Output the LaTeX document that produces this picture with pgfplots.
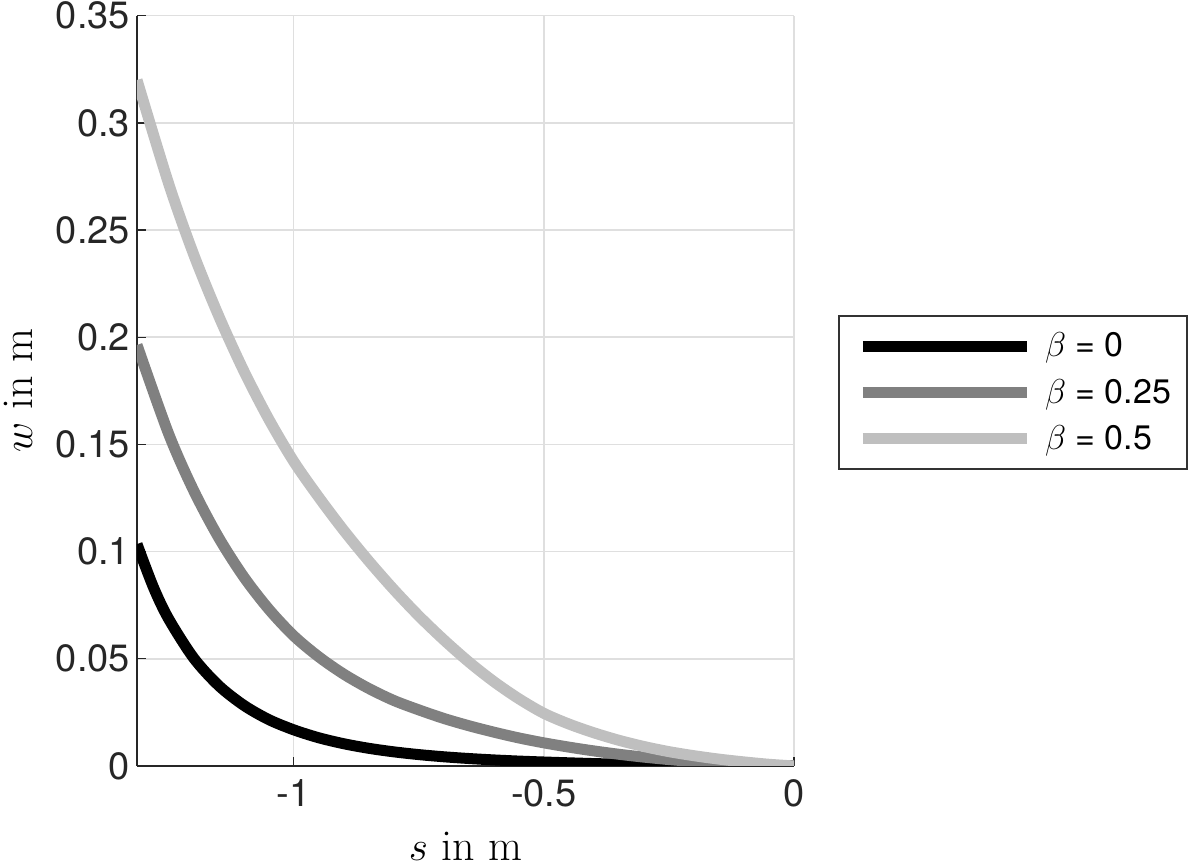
\documentclass[border=0pt]{standalone}
\usepackage{fontspec}
\setsansfont{TeX Gyre Heros}
\usepackage{pgfplots}
\pgfplotsset{compat=1.18}
\definecolor{lgray}{gray}{0.75}
\definecolor{mgray}{gray}{0.5}
\definecolor{gridc}{gray}{0.875}
\definecolor{axc}{gray}{0.15}
\begin{document}
\begin{tikzpicture}
\begin{axis}[
  scale only axis,
  width=328.5pt, height=375.15pt,
  xmin=-1.3128, xmax=0, ymin=0, ymax=0.35,
  xtick={-1,-0.5,0},
  ytick={0,0.05,0.1,0.15,0.2,0.25,0.3,0.35},
  axis lines=left,
  axis line style={-, draw=axc, line width=0.65pt},
  tick align=inside,
  major tick length=4.5pt,
  tick style={draw=axc, line width=0.65pt},
  grid=major,
  major grid style={draw=gridc, line width=0.75pt},
  /pgf/number format/fixed,
  /pgf/number format/precision=2,
  /pgf/number format/assume math mode=true,
  ticklabel style={font=\sffamily\fontsize{19}{22}\selectfont, text=axc},
  xticklabel style={yshift=-3.2pt},
  xlabel={$s$ in m},
  ylabel={$w$ in m},
  label style={font=\fontsize{22}{26}\selectfont, inner sep=0pt},
  xlabel style={at={(axis description cs:0.5,-0.126)}, anchor=base},
  ylabel style={at={(axis description cs:-0.1598,0.5)}, anchor=base},
  legend cell align=left,
  legend style={at={(axis description cs:1.067,0.6010)}, anchor=north west,
    draw=black!80, line width=0.8pt, fill=white,
    font=\sffamily\fontsize{17}{20}\selectfont,
    inner xsep=6pt, inner ysep=6.5pt,
    row sep=5.5pt,
    nodes={inner sep=2pt},
    /tikz/every odd column/.append style={column sep=4.3pt}},
  legend image code/.code={\path (0pt,0pt); \draw[#1] (3.3pt,0pt) -- (85.3pt,0pt);},
  every axis plot/.append style={line width=5.5pt, line cap=butt, line join=round},
]
\addplot[black, smooth, tension=0.5] coordinates {
(-1.3128,0.1035) (-1.28,0.0834) (-1.25,0.0688) (-1.2,0.0505) (-1.15,0.0376)
(-1.1,0.0284) (-1.05,0.0217) (-1.0,0.0169) (-0.95,0.01319) (-0.9,0.01040)
(-0.85,0.00826) (-0.8,0.00661) (-0.75,0.00532) (-0.7,0.00430) (-0.65,0.00349)
(-0.6,0.00283) (-0.55,0.00229) (-0.5,0.00186) (-0.4,0.00113) (-0.3,0.00062)
(-0.2,0.00028) (-0.1,0.00008) (0,0)};
\addlegendentry{$\beta$ = 0}
\addplot[mgray, smooth, tension=0.5] coordinates {
(-1.3128,0.1964) (-1.25,0.1552) (-1.2,0.1287) (-1.15,0.1067) (-1.1,0.0884)
(-1.05,0.0733) (-1.0,0.0608) (-0.95,0.0510) (-0.9,0.0429) (-0.85,0.0362)
(-0.8,0.0306) (-0.75,0.0262) (-0.7,0.0222) (-0.65,0.0188) (-0.6,0.0158)
(-0.55,0.0131) (-0.5,0.0108) (-0.45,0.00881) (-0.4,0.00703) (-0.35,0.00547)
(-0.3,0.00414) (-0.25,0.00300) (-0.2,0.00206) (-0.15,0.00131) (-0.1,0.00072)
(-0.05,0.00025) (0,0)};
\addlegendentry{$\beta$ = 0.25\hspace{4.5pt}}
\addplot[lgray, smooth, tension=0.5] coordinates {
(-1.3128,0.320) (-1.25,0.272) (-1.2,0.2389) (-1.15,0.2102) (-1.1,0.1846)
(-1.05,0.1620) (-1.0,0.1422) (-0.95,0.1255) (-0.9,0.1100) (-0.85,0.0957)
(-0.8,0.0824) (-0.75,0.0701) (-0.7,0.0589) (-0.65,0.0486) (-0.6,0.0394)
(-0.55,0.0314) (-0.5,0.0246) (-0.45,0.0196) (-0.4,0.0155) (-0.35,0.0120)
(-0.3,0.0091) (-0.25,0.0067) (-0.2,0.0048) (-0.15,0.0032) (-0.1,0.0019)
(-0.05,0.0008) (0,0)};
\addlegendentry{$\beta$ = 0.5}
\end{axis}
\pgfresetboundingbox
\path (-68.5pt,-49.5pt) rectangle (531.5pt,383pt);
\end{tikzpicture}
\end{document}
